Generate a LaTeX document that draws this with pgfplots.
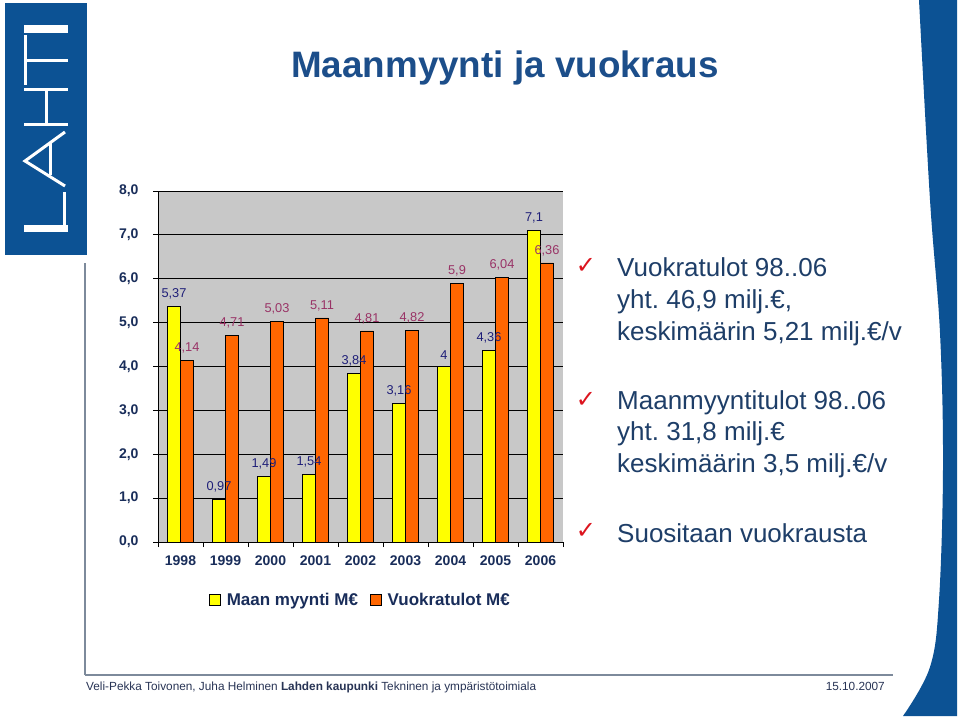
\documentclass[border=0pt]{standalone}
\usepackage{pgfplots}
\pgfplotsset{compat=1.18}
\usepackage{fontspec}
\setmainfont{Liberation Sans}
\newfontfamily\symfont{DejaVu Sans}
\definecolor{logoblue}{RGB}{12,82,148}
\definecolor{titleblue}{RGB}{28,78,138}
\definecolor{textblue}{RGB}{30,62,104}
\definecolor{axisnavy}{RGB}{25,45,90}
\definecolor{plotgray}{RGB}{200,200,200}
\definecolor{barY}{RGB}{255,255,0}
\definecolor{barO}{RGB}{255,102,0}
\definecolor{labY}{RGB}{30,30,120}
\definecolor{labO}{RGB}{153,51,102}
\definecolor{footgray}{RGB}{125,138,155}
\definecolor{foottext}{RGB}{40,52,85}
\definecolor{checkred}{RGB}{220,20,30}

\pgfplotstableread{
x maan vuokra
0 5.37 4.14
1 0.97 4.71
2 1.49 5.03
3 1.54 5.11
4 3.84 4.81
5 3.16 4.82
6 4 5.9
7 4.36 6.04
8 7.1 6.36
}\datatable

\begin{document}
\frenchspacing
\begin{tikzpicture}
\begin{scope}[x=1pt,y=1pt]
\useasboundingbox (0,0) rectangle (960,716);
\fill[white] (0,0) rectangle (960,716);
% logo
\fill[logoblue] (5,461) rectangle (87,713);
\begin{scope}[white, line width=3pt]
\fill (24,683) rectangle (68,691);
\draw (25.5,681) -- (25.5,631);
\draw (25.5,655) -- (68,655);
\draw (24,626) -- (68,626);
\draw (24,591) -- (68,591);
\draw (46,626) -- (46,591);
\draw (65,584) -- (25,555) -- (65,530);
\draw (50,573) -- (50,541);
\fill (24,484) rectangle (68,491);
\draw (64,486) -- (64,524);
\end{scope}
% right band
\fill[logoblue] plot[smooth, tension=0.6] coordinates {(919,716) (930,516) (940,383) (943,249) (939,116) (930,49) (903,0)} -- (957,0) -- (957,716) -- cycle;
% frame lines
\draw[footgray, line width=1.3pt] (85,453) -- (85,41);
\draw[footgray, line width=2pt] (85,41) -- (893,41);
% title
\node[anchor=base, font=\fontsize{36.8}{37}\selectfont\bfseries, text=titleblue, inner sep=0] at (505,638.3) {Maanmyynti ja vuokraus};
% bullets
\begin{scope}[every node/.style={anchor=base west, font=\fontsize{26}{26}\selectfont, text=textblue, inner sep=0}]
\node at (617,439) {Vuokratulot 98..06};
\node at (617,408) {yht. 46,9 milj.€,};
\node at (617,376) {keskimäärin 5,21 milj.€/v};
\node at (617,307) {Maanmyyntitulot 98..06};
\node at (617,276) {yht. 31,8 milj.€};
\node at (617,244) {keskimäärin 3,5 milj.€/v};
\node at (617,174) {Suositaan vuokrausta};
\end{scope}
\begin{scope}[every node/.style={font=\symfont\fontsize{24}{24}\selectfont, text=checkred, inner sep=0}]
\node at (586,450) {✓};
\node at (586,316) {✓};
\node at (586,185) {✓};
\end{scope}
% footer
\node[anchor=base west, font=\fontsize{11.8}{12}\selectfont, text=foottext, inner sep=0] at (86,25.3) {Veli-Pekka Toivonen, Juha Helminen \textbf{Lahden kaupunki} Tekninen ja ympäristötoimiala};
\node[anchor=base east, font=\fontsize{11.8}{12}\selectfont, text=foottext, inner sep=0] at (885,25.3) {15.10.2007};
\end{scope}

\begin{axis}[
  at={(158pt,174pt)}, anchor=south west,
  scale only axis, width=405pt, height=351pt,
  xmin=-0.5, xmax=8.5, ymin=0, ymax=8,
  axis background/.style={fill=plotgray},
  axis lines*=left,
  axis line style={black, line width=0.8pt},
  ybar=0pt, bar width=13pt,
  ytick={0,1,...,8},
  yticklabels={{0,0},{1,0},{2,0},{3,0},{4,0},{5,0},{6,0},{7,0},{8,0}},
  ymajorgrids, grid style={black, line width=0.8pt},
  tick align=outside, major tick length=5pt,
  tick style={black, line width=0.8pt},
  xtick={-0.5,0.5,...,8.5}, xticklabels={},
  extra x ticks={0,1,...,8},
  extra x tick labels={1998,1999,2000,2001,2002,2003,2004,2005,2006},
  extra x tick style={major tick length=0pt, grid=none, tick style={draw=none}},
  ticklabel style={font=\fontsize{14}{14}\selectfont\bfseries, text=axisnavy},
  xticklabel style={yshift=-10pt},
  yticklabel style={xshift=-11pt},
  legend style={at={(0.5,-0.165)}, anchor=center, draw=none, fill=none,
    font=\fontsize{17}{17}\selectfont\bfseries, text=axisnavy,
    /tikz/every even column/.append style={column sep=10pt}},
  legend columns=2,
  clip=false,
]
\addplot[fill=barY, draw=black, line width=0.6pt,
  legend image code/.code={\draw[fill=barY, draw=black, line width=0.6pt] (0pt,-5.5pt) rectangle (11pt,5.5pt); \path (15pt,0pt);},
  nodes near coords={\pgfmathprintnumber[use comma,assume math mode=true]{\pgfplotspointmeta}},
  every node near coord/.append style={font=\fontsize{12.8}{13}\selectfont, text=labY, yshift=3.5pt}]
  table[x=x, y=maan] {\datatable};
\addlegendentry{Maan myynti M€}
\addplot[fill=barO, draw=black, line width=0.6pt,
  legend image code/.code={\draw[fill=barO, draw=black, line width=0.6pt] (0pt,-5.5pt) rectangle (11pt,5.5pt); \path (15pt,0pt);},
  nodes near coords={\pgfmathprintnumber[use comma,assume math mode=true]{\pgfplotspointmeta}},
  every node near coord/.append style={font=\fontsize{12.8}{13}\selectfont, text=labO, yshift=3.5pt}]
  table[x=x, y=vuokra] {\datatable};
\addlegendentry{Vuokratulot M€}
\end{axis}
\end{tikzpicture}
\end{document}
